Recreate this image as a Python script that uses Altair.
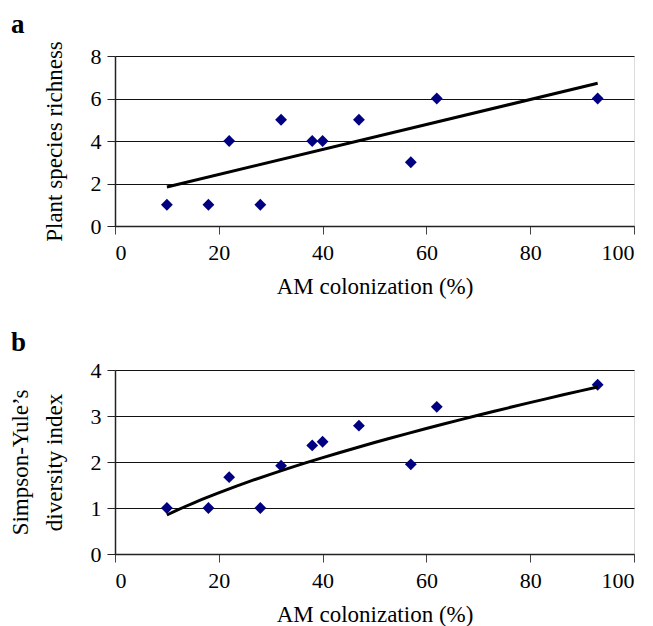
import altair as alt
import pandas as pd

# --- data ---
am_colonization = [10, 18, 22, 28, 32, 38, 40, 47, 57, 62, 93]
species_richness = [1, 1, 4, 1, 5, 4, 4, 5, 3, 6, 6]
simpson_yule = [1.0, 1.0, 1.67, 1.0, 1.92, 2.36, 2.44, 2.79, 1.95, 3.2, 3.68]
x_ticks = [0, 20, 40, 60, 80, 100]
ya_ticks = [0, 2, 4, 6, 8]
yb_ticks = [0, 1, 2, 3, 4]

df = pd.DataFrame({"am": am_colonization, "rich": species_richness, "simp": simpson_yule})

FONT = "Liberation Serif"
NAVY = "#000080"


def x_axis():
    return alt.Axis(values=x_ticks, title="AM colonization (%)", grid=False,
                    labelFont=FONT, titleFont=FONT, labelColor="black", titleColor="black",
                    labelFontSize=22, titleFontSize=23, titleFontWeight="normal",
                    tickSize=8, labelPadding=8, titlePadding=12,
                    domainColor="#222", domainWidth=1.5, tickColor="#444", tickWidth=1)


def y_axis(ticks, title):
    return alt.Axis(values=ticks, title=title, grid=True, gridColor="#111", gridWidth=1,
                    labelFont=FONT, titleFont=FONT, labelColor="black", titleColor="black",
                    labelFontSize=22, titleFontSize=23, titleFontWeight="normal",
                    tickSize=8, labelPadding=6, titlePadding=24, titleLineHeight=34,
                    domainColor="#222", domainWidth=1.5, tickColor="#222", tickWidth=1)


def panel(ycol, ydomain, yticks, ytitle, method, label, h, offset):
    base = alt.Chart(df)
    pts = base.mark_point(shape="diamond", filled=True, size=140, color=NAVY, opacity=1).encode(
        x=alt.X("am:Q", scale=alt.Scale(domain=[0, 100], nice=False), axis=x_axis()),
        y=alt.Y(f"{ycol}:Q", scale=alt.Scale(domain=ydomain, nice=False), axis=y_axis(yticks, ytitle)),
    )
    trend = base.transform_regression("am", ycol, method=method, extent=[10, 93]).mark_line(
        color="black", strokeWidth=3
    ).encode(x="am:Q", y=f"{ycol}:Q")
    return alt.layer(pts, trend).properties(
        width=519, height=h,
        title=alt.TitleParams(label, anchor="start", frame="group", dx=-104, offset=offset,
                              fontSize=27, font=FONT, fontWeight="bold", color="black"),
    )


chart_a = panel("rich", [0, 8], ya_ticks, "Plant species richness", "linear", "a", 170, 2)
chart_b = panel("simp", [0, 4], yb_ticks, ["Simpson-Yule\u2019s", "diversity index"], "pow", "b", 184, 2)

chart = alt.vconcat(chart_a, chart_b, spacing=29).properties(
    padding={"left": 0, "top": 2, "right": 0, "bottom": 0}
).configure_view(stroke="#555", strokeWidth=1).configure(background="white")

chart.save("out.html", embed_options={"renderer": "svg", "actions": False})
